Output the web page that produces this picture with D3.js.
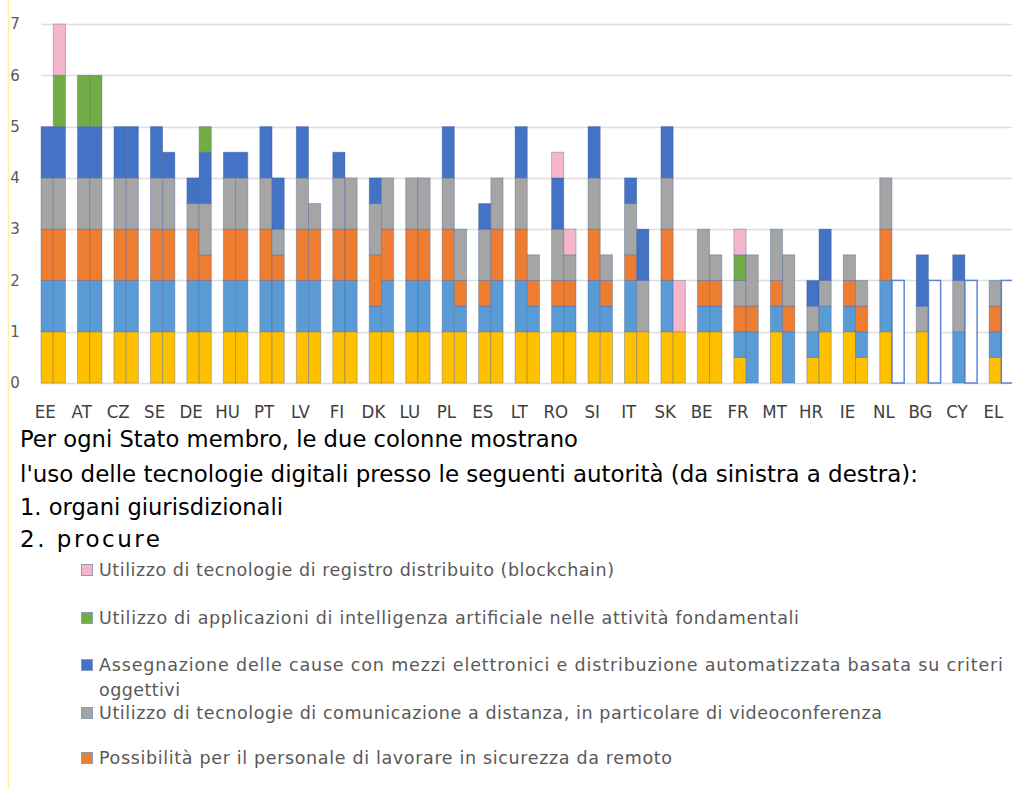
<!DOCTYPE html>
<html lang="it">
  <head>
    <meta charset="UTF-8" />
    <title>Tecnologie digitali - organi giurisdizionali e procure</title>
    <script src="https://d3js.org/d3.v7.min.js"></script>
    <style>
      body {
        margin: 0;
        background: #fff;
      }
      svg {
        display: block;
      }
    </style>
  </head>
  <body>
    <svg id="chart"></svg>
    <script>
      const WIDTH = 1012;
      const HEIGHT = 789;

      // Stati membri
      const countries = ["EE", "AT", "CZ", "SE", "DE", "HU", "PT", "LV", "FI", "DK", "LU", "PL", "ES", "LT",
        "RO", "SI", "IT", "SK", "BE", "FR", "MT", "HR", "IE", "NL", "BG", "CY", "EL"];

      // series, from the bottom of each column upwards
      const seriesKeys = ["yellow", "lightBlue", "orange", "grey", "blue", "green", "pink", "empty"];
      const seriesColors = ["#ffc000", "#5b9bd5", "#ed7d31", "#a5a5a5", "#4472c4", "#70ad47", "#f4b6c8", "#ffffff"];

      // 1. organi giurisdizionali
      const courtsYellow = [1, 1, 1, 1, 1, 1, 1, 1, 1, 1, 1, 1, 1, 1, 1, 1, 1, 1, 1, 0.5, 1, 0.5, 1, 1, 1, 0, 0.5];
      const courtsLightBlue = [1, 1, 1, 1, 1, 1, 1, 1, 1, 0.5, 1, 1, 0.5, 1, 0.5, 1, 1, 1, 0.5, 0.5, 0.5, 0.5, 0.5, 1, 0, 1, 0.5];
      const courtsOrange = [1, 1, 1, 1, 1, 1, 1, 1, 1, 1, 1, 1, 0.5, 1, 0.5, 1, 0.5, 1, 0.5, 0.5, 0.5, 0, 0.5, 1, 0, 0, 0.5];
      const courtsGrey = [1, 1, 1, 1, 0.5, 1, 1, 1, 1, 1, 1, 1, 1, 1, 1, 1, 1, 1, 1, 0.5, 1, 0.5, 0.5, 1, 0.5, 1, 0.5];
      const courtsBlue = [1, 1, 1, 1, 0.5, 0.5, 1, 1, 0.5, 0.5, 0, 1, 0.5, 1, 1, 1, 0.5, 1, 0, 0, 0, 0.5, 0, 0, 1, 0.5, 0];
      const courtsGreen = [0, 1, 0, 0, 0, 0, 0, 0, 0, 0, 0, 0, 0, 0, 0, 0, 0, 0, 0, 0.5, 0, 0, 0, 0, 0, 0, 0];
      const courtsPink = [0, 0, 0, 0, 0, 0, 0, 0, 0, 0, 0, 0, 0, 0, 0.5, 0, 0, 0, 0, 0.5, 0, 0, 0, 0, 0, 0, 0];
      const courtsEmpty = [0, 0, 0, 0, 0, 0, 0, 0, 0, 0, 0, 0, 0, 0, 0, 0, 0, 0, 0, 0, 0, 0, 0, 0, 0, 0, 0];

      // 2. procure
      const prosYellow = [1, 1, 1, 1, 1, 1, 1, 1, 1, 1, 1, 1, 1, 1, 1, 1, 1, 1, 1, 0, 0, 1, 0.5, 0, 0, 0, 0];
      const prosLightBlue = [1, 1, 1, 1, 1, 1, 1, 1, 1, 1, 1, 0.5, 1, 0.5, 0.5, 0.5, 0, 0, 0.5, 1, 1, 0.5, 0.5, 0, 0, 0, 0];
      const prosOrange = [1, 1, 1, 1, 0.5, 1, 0.5, 1, 1, 1, 1, 0.5, 1, 0.5, 0.5, 0.5, 0, 0, 0.5, 0.5, 0.5, 0, 0.5, 0, 0, 0, 0];
      const prosGrey = [1, 1, 1, 1, 1, 1, 0.5, 0.5, 1, 1, 1, 1, 1, 0.5, 0.5, 0.5, 1, 0, 0.5, 1, 1, 0.5, 0.5, 0, 0, 0, 0];
      const prosBlue = [1, 1, 1, 0.5, 1, 0.5, 1, 0, 0, 0, 0, 0, 0, 0, 0, 0, 1, 0, 0, 0, 0, 1, 0, 0, 0, 0, 0];
      const prosGreen = [1, 1, 0, 0, 0.5, 0, 0, 0, 0, 0, 0, 0, 0, 0, 0, 0, 0, 0, 0, 0, 0, 0, 0, 0, 0, 0, 0];
      const prosPink = [1, 0, 0, 0, 0, 0, 0, 0, 0, 0, 0, 0, 0, 0, 0.5, 0, 0, 1, 0, 0, 0, 0, 0, 0, 0, 0, 0];
      const prosEmpty = [0, 0, 0, 0, 0, 0, 0, 0, 0, 0, 0, 0, 0, 0, 0, 0, 0, 0, 0, 0, 0, 0, 0, 2, 2, 2, 2];

      const yTicks = [0, 1, 2, 3, 4, 5, 6, 7];

      const captionLines = [
        "Per ogni Stato membro, le due colonne mostrano",
        "l'uso delle tecnologie digitali presso le seguenti autorità (da sinistra a destra):",
        "1. organi giurisdizionali",
        "2. procure",
      ];

      const legendLabels = [
        "Utilizzo di tecnologie di registro distribuito (blockchain)",
        "Utilizzo di applicazioni di intelligenza artificiale nelle attività fondamentali",
        "Assegnazione delle cause con mezzi elettronici e distribuzione automatizzata basata su criteri",
        "Utilizzo di tecnologie di comunicazione a distanza, in particolare di videoconferenza",
        "Possibilità per il personale di lavorare in sicurezza da remoto",
      ];
      const legendColors = ["#f4b6c8", "#70ad47", "#4472c4", "#a5a5a5", "#ed7d31"];

      // rows for d3.stack
      function buildRows(cols) {
        return countries.map((c, i) => {
          const row = { country: c };
          seriesKeys.forEach((k, j) => (row[k] = cols[j][i]));
          return row;
        });
      }
      const courtsRows = buildRows([courtsYellow, courtsLightBlue, courtsOrange, courtsGrey,
        courtsBlue, courtsGreen, courtsPink, courtsEmpty]);
      const prosRows = buildRows([prosYellow, prosLightBlue, prosOrange, prosGrey,
        prosBlue, prosGreen, prosPink, prosEmpty]);

      const svg = d3.select("#chart").attr("width", WIDTH).attr("height", HEIGHT);

      // faint yellow line on the left edge
      svg.append("line")
        .attr("x1", 8.5).attr("x2", 8.5).attr("y1", 0).attr("y2", HEIGHT)
        .attr("stroke", "#fbf1a0").attr("stroke-width", 1.5);

      const y = d3.scaleLinear().domain([0, 7]).range([383, 24]);
      const x0 = d3.scaleBand().domain(countries).range([29, 1025.6]).padding(0.33);
      const x1 = d3.scaleBand().domain(["courts", "pros"]).range([0, x0.bandwidth()]);
      const color = d3.scaleOrdinal().domain(seriesKeys).range(seriesColors);

      // gridlines
      svg.append("g")
        .selectAll("line")
        .data(yTicks)
        .join("line")
        .attr("x1", 41).attr("x2", WIDTH)
        .attr("y1", (d) => Math.round(y(d)) + 0.5)
        .attr("y2", (d) => Math.round(y(d)) + 0.5)
        .attr("stroke", "#dedede").attr("stroke-width", 1.5);

      svg.append("g")
        .selectAll("text")
        .data(yTicks)
        .join("text")
        .attr("x", 15)
        .attr("y", (d) => y(d))
        .attr("dy", "0.35em")
        .attr("text-anchor", "middle")
        .style("font", "15px 'DejaVu Sans', sans-serif")
        .style("fill", "#595959")
        .text((d) => d);

      const stack = d3.stack().keys(seriesKeys);
      const columns = [
        { key: "courts", layers: stack(courtsRows) },
        { key: "pros", layers: stack(prosRows) },
      ];

      const bars = svg.append("g");
      columns.forEach((col) => {
        col.layers.forEach((layer) => {
          const isEmpty = layer.key === "empty";
          bars.append("g")
            .selectAll("rect")
            .data(layer.filter((d) => d[1] - d[0] > 0))
            .join("rect")
            .attr("x", (d) => x0(d.data.country) + x1(col.key))
            .attr("width", x1.bandwidth())
            .attr("y", (d) => y(d[1]))
            .attr("height", (d) => y(d[0]) - y(d[1]))
            .attr("fill", color(layer.key))
            .attr("stroke", isEmpty ? "#4472c4" : "#3b5998")
            .attr("stroke-opacity", isEmpty ? 0.85 : 0.35)
            .attr("stroke-width", isEmpty ? 1.5 : 1);
        });
      });

      // country labels (narrowed a little, the original face is condensed)
      svg.append("g")
        .selectAll("text")
        .data(countries)
        .join("text")
        .attr("transform", (d) => `translate(${x0(d) + x0.bandwidth() / 2 - 8}, 418) scale(0.9, 1)`)
        .attr("text-anchor", "middle")
        .style("font", "18.5px 'DejaVu Sans', sans-serif")
        .style("fill", "#404040")
        .text((d) => d);

      // caption below the chart
      const captionY = [447, 482, 515, 547];
      const captionW = [558, 898, 263, 140];
      const captionFit = ["spacingAndGlyphs", "spacingAndGlyphs", "spacingAndGlyphs", "spacing"];
      svg.append("g")
        .selectAll("text")
        .data(captionLines)
        .join("text")
        .attr("x", 20)
        .attr("y", (d, i) => captionY[i])
        .attr("textLength", (d, i) => captionW[i])
        .attr("lengthAdjust", (d, i) => captionFit[i])
        .style("font", "23px 'DejaVu Sans', sans-serif")
        .style("fill", "#000")
        .text((d) => d);

      // legend
      const legendY = [570, 618, 665, 713, 758];
      const legendW = [515, 700, 904, 783, 573];
      const legend = svg.append("g")
        .selectAll("g")
        .data(legendLabels)
        .join("g")
        .attr("transform", (d, i) => `translate(81, ${legendY[i]})`);

      legend.append("rect")
        .attr("x", 0.5).attr("y", -5.5)
        .attr("width", 11).attr("height", 11)
        .attr("fill", (d, i) => legendColors[i])
        .attr("stroke", "#8a9cc2").attr("stroke-width", 1);

      legend.append("text")
        .attr("x", 18)
        .attr("dy", "0.35em")
        .attr("textLength", (d, i) => legendW[i])
        .attr("lengthAdjust", "spacing")
        .style("font", "17.5px 'DejaVu Sans', sans-serif")
        .style("fill", "#595959")
        .text((d) => d);

      svg.append("text")
        .attr("x", 99)
        .attr("y", 690)
        .attr("dy", "0.35em")
        .attr("textLength", 81)
        .attr("lengthAdjust", "spacing")
        .style("font", "17.5px 'DejaVu Sans', sans-serif")
        .style("fill", "#595959")
        .text("oggettivi");
    </script>
  </body>
</html>
